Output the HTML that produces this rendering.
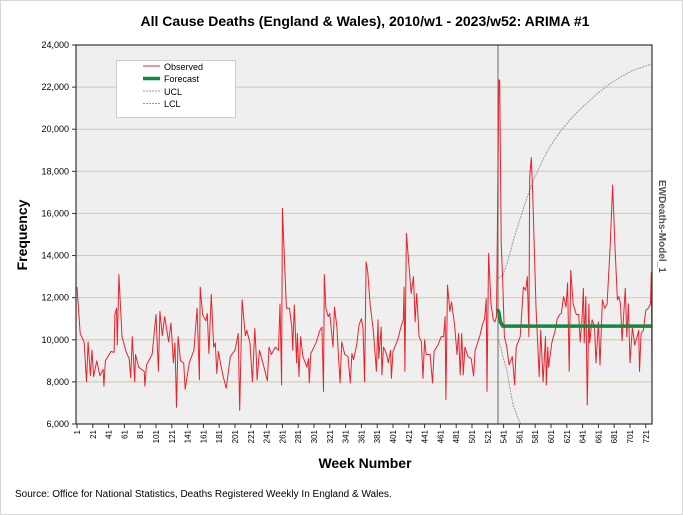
<!DOCTYPE html>
<html><head><meta charset="utf-8"><style>
body{margin:0;background:#fff;}
svg{display:block;font-family:"Liberation Sans",sans-serif;}
</style></head><body>
<svg id="chart" width="683" height="515" viewBox="0 0 683 515" xmlns="http://www.w3.org/2000/svg">
<rect x="0.5" y="0.5" width="682" height="514" fill="#fff" stroke="#d8d8d8"/>
<text x="365" y="26" text-anchor="middle" font-size="14" font-weight="bold">All Cause Deaths (England &amp; Wales), 2010/w1 - 2023/w52: ARIMA #1</text>
<rect x="76" y="45" width="576" height="379" fill="#efefef"/>
<g id="grid"></g>
<g id="yticks"></g>
<g id="xticks"></g>
<line x1="498" y1="45" x2="498" y2="424" stroke="#808080" stroke-width="1.2"/>
<g id="series"></g>
<rect x="76" y="45" width="576" height="379" fill="none" stroke="#333" stroke-width="1.2"/>
<text transform="translate(27,235) rotate(-90)" text-anchor="middle" font-size="14" font-weight="bold">Frequency</text>
<text x="365" y="468" text-anchor="middle" font-size="14" font-weight="bold">Week Number</text>
<text transform="translate(659,180) rotate(90)" font-size="10" font-weight="bold" fill="#555">EWDeaths-Model_1</text>
<text x="15" y="497" font-size="10">Source: Office for National Statistics, Deaths Registered Weekly In England &amp; Wales.</text>
<g>
<rect x="116.5" y="60.5" width="119" height="57" fill="#fff" stroke="#ccc"/>
<line x1="143" y1="66" x2="160" y2="66" stroke="#e8232c" stroke-width="1"/>
<text x="164" y="70" font-size="9">Observed</text>
<line x1="143" y1="78.5" x2="160" y2="78.5" stroke="#12893f" stroke-width="3.5"/>
<text x="164" y="82" font-size="9">Forecast</text>
<line x1="143" y1="91" x2="160" y2="91" stroke="#999" stroke-dasharray="2,1"/>
<text x="164" y="95" font-size="9">UCL</text>
<line x1="143" y1="103.5" x2="160" y2="103.5" stroke="#999" stroke-dasharray="2,1"/>
<text x="164" y="107" font-size="9">LCL</text>
</g>
</svg>
<script>
const obsWeeks=[1,5,10,13,15,18,20,22,26,30,34,35,37,44,48,49,51,52,54,58,63,67,69,71,74,75,79,86,87,89,96,101,104,106,109,112,117,120,123,125,127,129,132,136,138,143,149,153,156,157,160,164,166,168,171,174,176,178,180,183,186,190,195,201,205,207,210,214,216,220,223,226,228,229,232,237,242,244,247,252,256,258,260,261,266,270,273,274,276,279,280,282,284,287,292,294,295,297,301,304,308,311,313,314,316,319,321,323,325,327,330,332,334,336,340,344,347,349,351,355,358,361,363,365,367,369,372,376,380,382,383,386,387,389,393,395,398,399,401,407,411,414,415,416,418,424,427,429,431,434,437,439,441,443,448,451,453,458,462,465,467,468,470,473,475,479,482,484,486,488,490,492,496,500,503,505,511,514,517,519,520,522,525,528,530,532,535,536,538,540,542,545,548,552,555,557,562,566,569,571,573,574,576,578,582,586,588,591,594,595,597,598,602,604,606,609,612,614,617,620,622,624,626,629,633,636,638,640,642,643,645,647,649,650,653,656,658,661,663,666,669,672,676,679,682,685,687,689,691,695,697,699,701,704,707,710,712,713,715,718,721,724,727,728,729];
const obsValues=[12500,10300,9900,8000,9900,8300,9500,8250,9000,8300,8600,7800,9000,9450,9400,11200,11500,9750,13100,10150,9450,9100,8200,10150,8000,9300,8700,8500,7800,8800,9300,11200,8500,11350,10200,11100,9900,10800,8900,9850,6800,10150,9000,8900,7650,8900,9500,11500,8100,12500,11200,10900,11250,9350,12150,9650,9850,8400,9450,8800,8250,7700,9200,9500,10300,6650,11900,10200,10450,9830,8000,10550,9200,8100,9500,8800,8050,9650,9300,9650,9500,11700,7850,16250,11500,11500,10550,9500,11650,8900,10300,8250,10150,9200,8700,9100,7950,9350,9650,9900,10400,10600,7550,13100,11500,11100,11250,10450,9650,11550,10600,9200,7950,9900,9300,9200,7950,9350,9050,9750,10700,11000,10550,8000,13700,13250,11700,10450,8500,10950,9100,10600,8330,9650,9300,8900,9500,8170,9450,10000,10600,10950,12500,8500,15050,12200,13000,10850,12200,10150,9900,8170,10000,9300,9300,7950,9450,9750,10150,10150,11100,7150,12600,11350,11800,10700,9300,10300,8330,10300,8330,9650,9200,9100,8280,9500,10200,10700,11000,11950,7550,14100,11700,10950,10850,11100,22350,22300,14600,12700,10150,9650,8800,9200,7850,9650,10150,12500,12350,13000,10150,17750,18650,16800,11550,8250,10450,8000,10150,7850,9650,8700,9850,10150,10400,11000,11200,11250,12050,11550,12700,8500,13300,11700,11200,11200,9900,10800,12450,9850,12050,6900,11700,9850,10950,10600,8900,10850,8800,11900,11500,11700,14550,17350,14400,11900,12050,11700,9950,12450,10150,11700,8900,10600,9750,10150,10450,8500,10300,10450,11400,11500,11700,13200,7550];
const fcWeeks=[533,535,537,540,729];
const fcValues=[11450,11300,10850,10650,10650];
const uclWeeks=[534,536,540,545,550,556,562,570,579,590,600,615,630,645,660,675,690,705,729];
const uclValues=[12900,12950,13050,13600,14250,15050,15750,16700,17600,18500,19200,20000,20650,21200,21700,22150,22500,22800,23100];
const lclWeeks=[534,537,540,545,549,553,558,562,566];
const lclValues=[10100,9700,9200,8550,7700,6900,6400,6050,5700];
const yTicks=[6000,8000,10000,12000,14000,16000,18000,20000,22000,24000];
const xTicks=[1,21,41,61,81,101,121,141,161,181,201,221,241,261,281,301,321,341,361,381,401,421,441,461,481,501,521,541,561,581,601,621,641,661,681,701,721];

const X=w=>77+(w-1)*0.79;
const Y=v=>424-(v-6000)*379/18000;
const NS='http://www.w3.org/2000/svg';
function mk(tag,attrs,parent){const e=document.createElementNS(NS,tag);for(const k in attrs)e.setAttribute(k,attrs[k]);parent.appendChild(e);return e;}
const grid=document.getElementById('grid'),yt=document.getElementById('yticks'),xt=document.getElementById('xticks'),ser=document.getElementById('series');
yTicks.forEach(v=>{
  if(v>6000&&v<24000){const g=mk('line',{x1:76,x2:652,y1:Y(v),y2:Y(v),stroke:'#d6cfa8','stroke-width':1.2},grid);
  
  }
  mk('line',{x1:72,x2:76,y1:Y(v),y2:Y(v),stroke:'#333'},yt);
  const t=mk('text',{x:69,y:Y(v)+3,'text-anchor':'end','font-size':9},yt);t.textContent=v.toLocaleString('en-US');
  
  
});
xTicks.forEach(w=>{
  mk('line',{x1:X(w),x2:X(w),y1:424,y2:428,stroke:'#333'},xt);
  const t=mk('text',{transform:`translate(${X(w)+3},430) rotate(-90)`,'text-anchor':'end','font-size':8},xt);t.textContent=w;
  
  
});
mk('clipPath',{id:'clip'},ser);
mk('rect',{x:76,y:45,width:576,height:379},document.getElementById('clip'));
function line(ws,vs,attrs,name){
  const p=mk('polyline',Object.assign({points:ws.map((w,i)=>X(w).toFixed(1)+','+Y(vs[i]).toFixed(1)).join(' '),fill:'none','clip-path':'url(#clip)'},attrs),ser);
  
  
}
line(uclWeeks,uclValues,{stroke:'#999','stroke-dasharray':'2,1'},'ucl-line');
line(lclWeeks,lclValues,{stroke:'#999','stroke-dasharray':'2,1'},'lcl-line');
line(obsWeeks,obsValues,{stroke:'#e8232c','stroke-width':1,'stroke-linejoin':'round'},'observed-line');
line(fcWeeks,fcValues,{stroke:'#12893f','stroke-width':3.5},'forecast-line');
</script>
</body></html>
